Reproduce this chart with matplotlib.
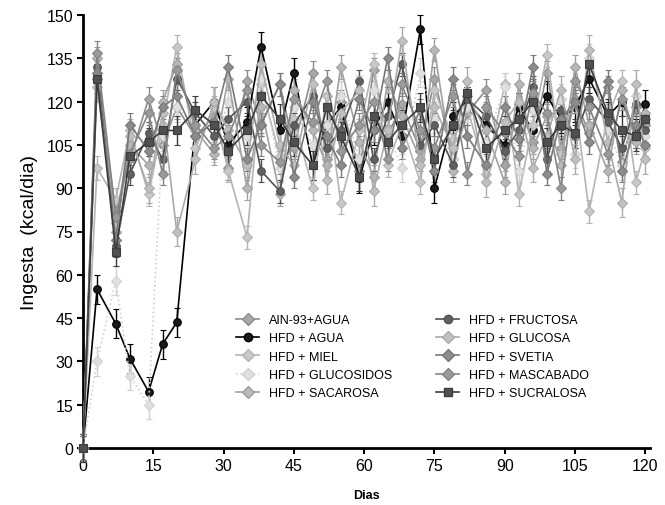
import matplotlib
matplotlib.use("Agg")
import matplotlib.pyplot as plt
from matplotlib.lines import Line2D

plt.rcParams['font.family'] = ['Liberation Sans', 'DejaVu Sans']

# sampling days
days = [0, 3, 7, 10, 14, 17, 20, 24, 28, 31, 35, 38, 42, 45, 49, 52, 55, 59, 62,
        65, 68, 72, 75, 79, 82, 86, 90, 93, 96, 99, 102, 105, 108, 112, 115, 118, 120]

ain93 = [0, 128, 82, 100, 121, 105, 118, 108, 115, 97, 127, 112, 126, 104, 130, 100, 120, 96, 131,
         108, 119, 103, 128, 100, 116, 124, 98, 119, 106, 130, 104, 121, 109, 125, 99, 118, 112]
hfd_agua = [0, 55, 43, 31, 19.5, 36, 43.5, 112, 120, 105, 113, 139, 110, 130, 98, 112, 118, 93.5, 110,
            120, 108, 145, 90, 115, 120, 112, 105, 118, 110, 122, 114, 118, 128, 115, 120, 109, 119]
hfd_miel = [0, 97, 86, 110, 88, 112, 139, 104, 118, 96, 73, 126, 101, 114, 90, 122, 85, 110, 133,
            98, 112, 92, 124, 107, 118, 95, 126, 88, 112, 136, 102, 120, 82, 115, 127, 92, 104]
hfd_glucosidos = [0, 30, 58, 25, 15, 108, 118, 112, 104, 120, 108, 128, 97, 118, 105, 112, 122, 100, 124,
                  110, 97, 130, 114, 100, 118, 106, 125, 96, 117, 108, 121, 102, 135, 110, 98, 122, 108]
hfd_sacarosa = [0, 135, 75, 105, 98, 120, 133, 110, 102, 128, 90, 118, 88, 124, 110, 98, 132, 106, 94,
                127, 115, 100, 138, 96, 122, 110, 92, 126, 104, 115, 98, 132, 112, 96, 124, 106, 116]
hfd_fructosa = [0, 132, 70, 95, 109, 100, 128, 116, 108, 114, 120, 96, 89, 112, 122, 104, 110, 127, 100,
                115, 133, 105, 112, 98, 121, 115, 103, 110, 125, 100, 117, 108, 121, 113, 104, 119, 110]
hfd_glucosa = [0, 125, 78, 108, 90, 116, 75, 100, 120, 110, 98, 133, 105, 98, 126, 93, 116, 124, 89,
               110, 141, 98, 118, 104, 127, 92, 113, 120, 97, 108, 124, 100, 138, 106, 85, 126, 100]
hfd_svetia = [0, 130, 72, 112, 103, 118, 122, 108, 113, 132, 100, 112, 126, 94, 120, 108, 98, 121, 110,
              135, 104, 117, 96, 128, 108, 98, 118, 107, 132, 95, 114, 120, 106, 127, 96, 112, 105]
hfd_mascabado = [0, 137, 80, 102, 116, 95, 131, 112, 104, 108, 124, 105, 99, 121, 113, 127, 103, 112, 120,
                 100, 126, 110, 104, 122, 95, 118, 109, 101, 123, 116, 90, 127, 118, 102, 121, 108, 114]
hfd_sucralosa = [0, 128, 68, 101, 106, 110, 110, 117, 112, 103, 110, 122, 114, 106, 98, 118, 108, 94, 115,
                 106, 112, 118, 100, 112, 123, 104, 110, 114, 120, 106, 112, 109, 133, 116, 110, 108, 114]

labels = ["AIN-93+AGUA", "HFD + AGUA", "HFD + MIEL", "HFD + GLUCOSIDOS", "HFD + SACAROSA",
          "HFD + FRUCTOSA", "HFD + GLUCOSA", "HFD + SVETIA", "HFD + MASCABADO", "HFD + SUCRALOSA"]
series = [ain93, hfd_agua, hfd_miel, hfd_glucosidos, hfd_sacarosa,
          hfd_fructosa, hfd_glucosa, hfd_svetia, hfd_mascabado, hfd_sucralosa]
sem = [4, 5, 4, 5, 4, 4, 5, 4, 4, 5]

# (line colour, marker face, marker, line style)
styles = [
    ("#8c8c8c", "#a8a8a8", "D", "-"),
    ("#000000", "#1a1a1a", "o", "-"),
    ("#b4b4b4", "#c8c8c8", "D", "-"),
    ("#d0d0d0", "#e0e0e0", "D", ":"),
    ("#a0a0a0", "#b8b8b8", "D", "-"),
    ("#505050", "#606060", "o", "-"),
    ("#aaaaaa", "#c0c0c0", "D", "-"),
    ("#787878", "#8c8c8c", "D", "-"),
    ("#848484", "#9a9a9a", "D", "-"),
    ("#3c3c3c", "#505050", "s", "-"),
]

fig = plt.figure(figsize=(6.65, 5.06), dpi=100)
ax = fig.add_axes([83 / 665, 1 - 449 / 506, (650 - 83) / 665, (449 - 16) / 506])

handles = []
for vals, err, (lc, fc, mk, ls), lab in zip(series, sem, styles, labels):
    ax.errorbar(days, vals, yerr=err, color=lc, ecolor=lc, elinewidth=1.0,
                capsize=2.5, capthick=1.0, linewidth=1.2, linestyle=ls,
                marker=mk, markersize=5.5, markerfacecolor=fc,
                markeredgecolor=lc, markeredgewidth=0.8, clip_on=False, zorder=3)
    handles.append(Line2D([], [], color=lc, linestyle=ls, linewidth=1.2, marker=mk,
                          markersize=6, markerfacecolor=fc, markeredgecolor=lc))

ax.set_xlim(0, 121)
ax.set_ylim(0, 150)
ax.set_xticks(range(0, 121, 15))
ax.set_yticks(range(0, 151, 15))
ax.spines['top'].set_visible(False)
ax.spines['right'].set_visible(False)
ax.spines['left'].set_linewidth(2)
ax.spines['bottom'].set_linewidth(2)
ax.tick_params(axis='both', direction='out', length=4, width=1.5, labelsize=11.5, pad=3)

ax.set_ylabel("Ingesta  (kcal/dia)", fontsize=14, labelpad=6)
ax.set_xlabel("Dias", fontsize=9, fontweight='bold', labelpad=12)

leg_kw = dict(frameon=False, fontsize=9, handlelength=1.8, handletextpad=0.8,
              labelspacing=0.5, borderpad=0, loc='upper left')
leg1 = fig.legend(handles[:5], labels[:5], bbox_to_anchor=(230 / 665, 1 - 309 / 506), **leg_kw)
leg2 = fig.legend(handles[5:], labels[5:], bbox_to_anchor=(430 / 665, 1 - 309 / 506), **leg_kw)

fig.savefig("out.png", dpi=100)
